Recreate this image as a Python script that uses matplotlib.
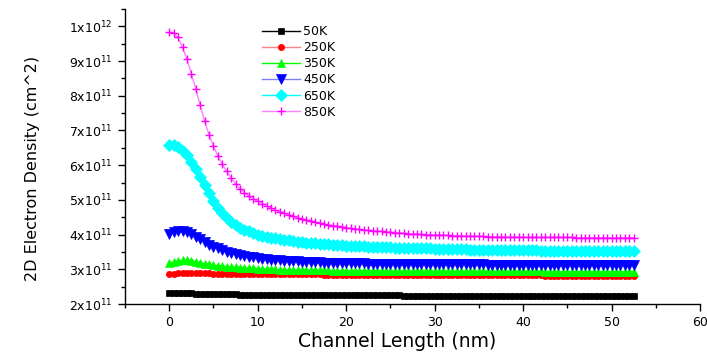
import numpy as np
import matplotlib
matplotlib.use('Agg')
import matplotlib.pyplot as plt
from matplotlib.ticker import MultipleLocator, FixedLocator, FixedFormatter

# Comprimento do canal (nm), passo de 0.5 nm
x = np.arange(0, 53, 0.5)

# Densidade de elétrons 2D (unidades de 1e11 cm^-2)
n_50K = [2.32, 2.32, 2.32, 2.31, 2.31, 2.31, 2.30, 2.30, 2.30, 2.29,
         2.29, 2.29, 2.28, 2.28, 2.28, 2.28, 2.27, 2.27, 2.27, 2.27,
         2.27, 2.26, 2.26, 2.26, 2.26, 2.26, 2.26, 2.26, 2.26, 2.26,
         2.26, 2.26, 2.26, 2.25, 2.25, 2.25, 2.25, 2.25, 2.25, 2.25,
         2.25, 2.25, 2.25, 2.25, 2.25, 2.25, 2.25, 2.25, 2.25, 2.25,
         2.25, 2.25, 2.25, 2.24, 2.24, 2.24, 2.24, 2.24, 2.24, 2.24,
         2.24, 2.24, 2.24, 2.24, 2.24, 2.24, 2.24, 2.24, 2.24, 2.24,
         2.24, 2.24, 2.24, 2.24, 2.24, 2.24, 2.24, 2.24, 2.24, 2.24,
         2.24, 2.24, 2.23, 2.23, 2.23, 2.23, 2.23, 2.23, 2.23, 2.23,
         2.23, 2.23, 2.23, 2.23, 2.23, 2.23, 2.23, 2.23, 2.23, 2.23,
         2.23, 2.23, 2.23, 2.23, 2.23, 2.23]
n_250K = [2.86, 2.87, 2.88, 2.89, 2.89, 2.89, 2.89, 2.88, 2.88, 2.88,
          2.87, 2.87, 2.87, 2.87, 2.87, 2.87, 2.87, 2.87, 2.87, 2.87,
          2.86, 2.86, 2.86, 2.86, 2.86, 2.86, 2.86, 2.86, 2.86, 2.86,
          2.86, 2.86, 2.86, 2.86, 2.86, 2.85, 2.85, 2.85, 2.85, 2.85,
          2.85, 2.85, 2.85, 2.85, 2.85, 2.85, 2.85, 2.85, 2.85, 2.85,
          2.84, 2.84, 2.84, 2.84, 2.84, 2.84, 2.84, 2.84, 2.84, 2.84,
          2.84, 2.84, 2.84, 2.84, 2.84, 2.83, 2.83, 2.83, 2.83, 2.83,
          2.83, 2.83, 2.83, 2.83, 2.83, 2.83, 2.83, 2.83, 2.83, 2.83,
          2.83, 2.83, 2.83, 2.83, 2.83, 2.82, 2.82, 2.82, 2.82, 2.82,
          2.82, 2.82, 2.82, 2.82, 2.82, 2.82, 2.82, 2.82, 2.82, 2.82,
          2.82, 2.82, 2.82, 2.82, 2.82, 2.82]
n_350K = [3.17, 3.21, 3.24, 3.26, 3.26, 3.25, 3.22, 3.19, 3.16, 3.14,
          3.12, 3.10, 3.09, 3.08, 3.07, 3.06, 3.05, 3.04, 3.03, 3.03,
          3.02, 3.01, 3.01, 3.00, 3.00, 2.99, 2.99, 2.99, 2.98, 2.98,
          2.98, 2.98, 2.97, 2.97, 2.97, 2.97, 2.97, 2.96, 2.96, 2.96,
          2.96, 2.96, 2.96, 2.96, 2.96, 2.96, 2.96, 2.96, 2.96, 2.96,
          2.95, 2.95, 2.95, 2.95, 2.95, 2.95, 2.95, 2.95, 2.95, 2.95,
          2.95, 2.95, 2.95, 2.95, 2.95, 2.94, 2.94, 2.94, 2.94, 2.94,
          2.94, 2.94, 2.94, 2.94, 2.94, 2.94, 2.94, 2.94, 2.94, 2.94,
          2.94, 2.94, 2.94, 2.94, 2.94, 2.93, 2.93, 2.93, 2.93, 2.93,
          2.93, 2.93, 2.93, 2.93, 2.93, 2.93, 2.93, 2.93, 2.93, 2.93,
          2.93, 2.93, 2.93, 2.93, 2.93, 2.93]
n_450K = [4.03, 4.08, 4.10, 4.10, 4.08, 4.02, 3.94, 3.86, 3.78, 3.71,
          3.65, 3.60, 3.55, 3.51, 3.47, 3.44, 3.41, 3.38, 3.36, 3.34,
          3.32, 3.31, 3.29, 3.28, 3.27, 3.26, 3.25, 3.24, 3.23, 3.23,
          3.22, 3.21, 3.21, 3.20, 3.20, 3.19, 3.19, 3.19, 3.18, 3.18,
          3.18, 3.17, 3.17, 3.17, 3.17, 3.16, 3.16, 3.16, 3.16, 3.16,
          3.16, 3.15, 3.15, 3.15, 3.15, 3.15, 3.15, 3.14, 3.14, 3.14,
          3.14, 3.14, 3.14, 3.14, 3.14, 3.14, 3.14, 3.14, 3.14, 3.14,
          3.14, 3.14, 3.13, 3.13, 3.13, 3.13, 3.13, 3.13, 3.13, 3.13,
          3.13, 3.13, 3.13, 3.13, 3.13, 3.13, 3.13, 3.13, 3.13, 3.13,
          3.13, 3.13, 3.13, 3.13, 3.12, 3.12, 3.12, 3.12, 3.12, 3.12,
          3.12, 3.12, 3.12, 3.12, 3.12, 3.12]
n_650K = [6.58, 6.57, 6.52, 6.42, 6.29, 6.10, 5.90, 5.66, 5.43, 5.19,
          4.97, 4.78, 4.62, 4.48, 4.37, 4.28, 4.20, 4.14, 4.09, 4.04,
          4.00, 3.97, 3.94, 3.91, 3.89, 3.87, 3.85, 3.83, 3.81, 3.80,
          3.78, 3.77, 3.76, 3.75, 3.74, 3.73, 3.72, 3.71, 3.70, 3.69,
          3.68, 3.68, 3.67, 3.66, 3.66, 3.65, 3.65, 3.64, 3.64, 3.63,
          3.63, 3.62, 3.62, 3.62, 3.61, 3.61, 3.61, 3.60, 3.60, 3.60,
          3.59, 3.59, 3.59, 3.59, 3.58, 3.58, 3.58, 3.58, 3.57, 3.57,
          3.57, 3.57, 3.57, 3.56, 3.56, 3.56, 3.56, 3.56, 3.55, 3.55,
          3.55, 3.55, 3.55, 3.55, 3.54, 3.54, 3.54, 3.54, 3.54, 3.54,
          3.54, 3.54, 3.53, 3.53, 3.53, 3.53, 3.53, 3.53, 3.53, 3.53,
          3.53, 3.53, 3.53, 3.53, 3.53, 3.53]
n_850K = [9.83, 9.80, 9.68, 9.40, 9.05, 8.64, 8.20, 7.72, 7.27, 6.88,
          6.55, 6.27, 6.03, 5.82, 5.63, 5.46, 5.32, 5.21, 5.11, 5.03,
          4.96, 4.89, 4.83, 4.77, 4.71, 4.66, 4.61, 4.57, 4.53, 4.49,
          4.45, 4.42, 4.39, 4.36, 4.33, 4.31, 4.28, 4.26, 4.24, 4.22,
          4.20, 4.18, 4.16, 4.15, 4.13, 4.12, 4.11, 4.10, 4.09, 4.08,
          4.07, 4.06, 4.05, 4.04, 4.03, 4.02, 4.02, 4.01, 4.00, 4.00,
          3.99, 3.99, 3.98, 3.98, 3.97, 3.97, 3.96, 3.96, 3.96, 3.95,
          3.95, 3.95, 3.94, 3.94, 3.94, 3.94, 3.93, 3.93, 3.93, 3.93,
          3.93, 3.92, 3.92, 3.92, 3.92, 3.92, 3.92, 3.92, 3.92, 3.92,
          3.92, 3.92, 3.91, 3.91, 3.91, 3.91, 3.91, 3.91, 3.91, 3.91,
          3.91, 3.91, 3.91, 3.91, 3.91, 3.91]

labels = ['50K', '250K', '350K', '450K', '650K', '850K']
series = [n_50K, n_250K, n_350K, n_450K, n_650K, n_850K]

yticks = [2e11, 3e11, 4e11, 5e11, 6e11, 7e11, 8e11, 9e11, 1e12]
ytick_labels = [r'$\mathregular{2x10^{11}}$', r'$\mathregular{3x10^{11}}$',
                r'$\mathregular{4x10^{11}}$', r'$\mathregular{5x10^{11}}$',
                r'$\mathregular{6x10^{11}}$', r'$\mathregular{7x10^{11}}$',
                r'$\mathregular{8x10^{11}}$', r'$\mathregular{9x10^{11}}$',
                r'$\mathregular{1x10^{12}}$']

# estilo tipo Origin: (cor do marcador, cor da linha, marcador, tamanho)
estilos = [('#000000', '#000000', 's', 4.0),
           ('#ff0000', '#ff8080', 'o', 4.5),
           ('#00ff00', '#00ff00', '^', 5.5),
           ('#0000ff', '#8080ff', 'v', 6.5),
           ('#00ffff', '#00ffff', 'D', 6.0),
           ('#ff00ff', '#ff80ff', '+', 5.5)]

fig = plt.figure(figsize=(7.07, 3.56), dpi=100)
ax = fig.add_axes([125/707, 1 - 304/356, 575/707, 295/356])

for n, lab, (mc, lc, mk, ms) in zip(series, labels, estilos):
    y = np.array(n) * 1e11
    ax.plot(x, y, color=lc, lw=1.0, marker=mk, ms=ms, mfc=mc, mec=mc,
            mew=1.0 if mk == '+' else 0.5, label=lab)

ax.set_xlim(-5, 60)
ax.set_ylim(2e11, 1.05e12)
ax.xaxis.set_major_locator(MultipleLocator(10))
ax.xaxis.set_minor_locator(MultipleLocator(5))
ax.yaxis.set_major_locator(FixedLocator(yticks))
ax.yaxis.set_major_formatter(FixedFormatter(ytick_labels))
ax.yaxis.set_minor_locator(MultipleLocator(0.5e11))

for s in ['top', 'right']:
    ax.spines[s].set_visible(False)
for s in ['left', 'bottom']:
    ax.spines[s].set_linewidth(1.0)

ax.tick_params(which='major', direction='out', length=5, width=1, labelsize=9, pad=4)
ax.tick_params(which='minor', direction='out', length=3, width=1)

ax.set_xlabel('Channel Length (nm)', fontsize=13.5)
ax.xaxis.set_label_coords(0.473, -0.095)
ax.set_ylabel('2D Electron Density (cm^2)', fontsize=11.5)
ax.yaxis.set_label_coords(-0.148, 0.461)

ax.legend(loc='upper left', bbox_to_anchor=(262/707, 1 - 25/356),
          bbox_transform=fig.transFigure, frameon=False, fontsize=9,
          borderpad=0, borderaxespad=0, handlelength=3.0, handletextpad=0.3,
          labelspacing=0.25, numpoints=1)

fig.savefig('out.png', dpi=100)
